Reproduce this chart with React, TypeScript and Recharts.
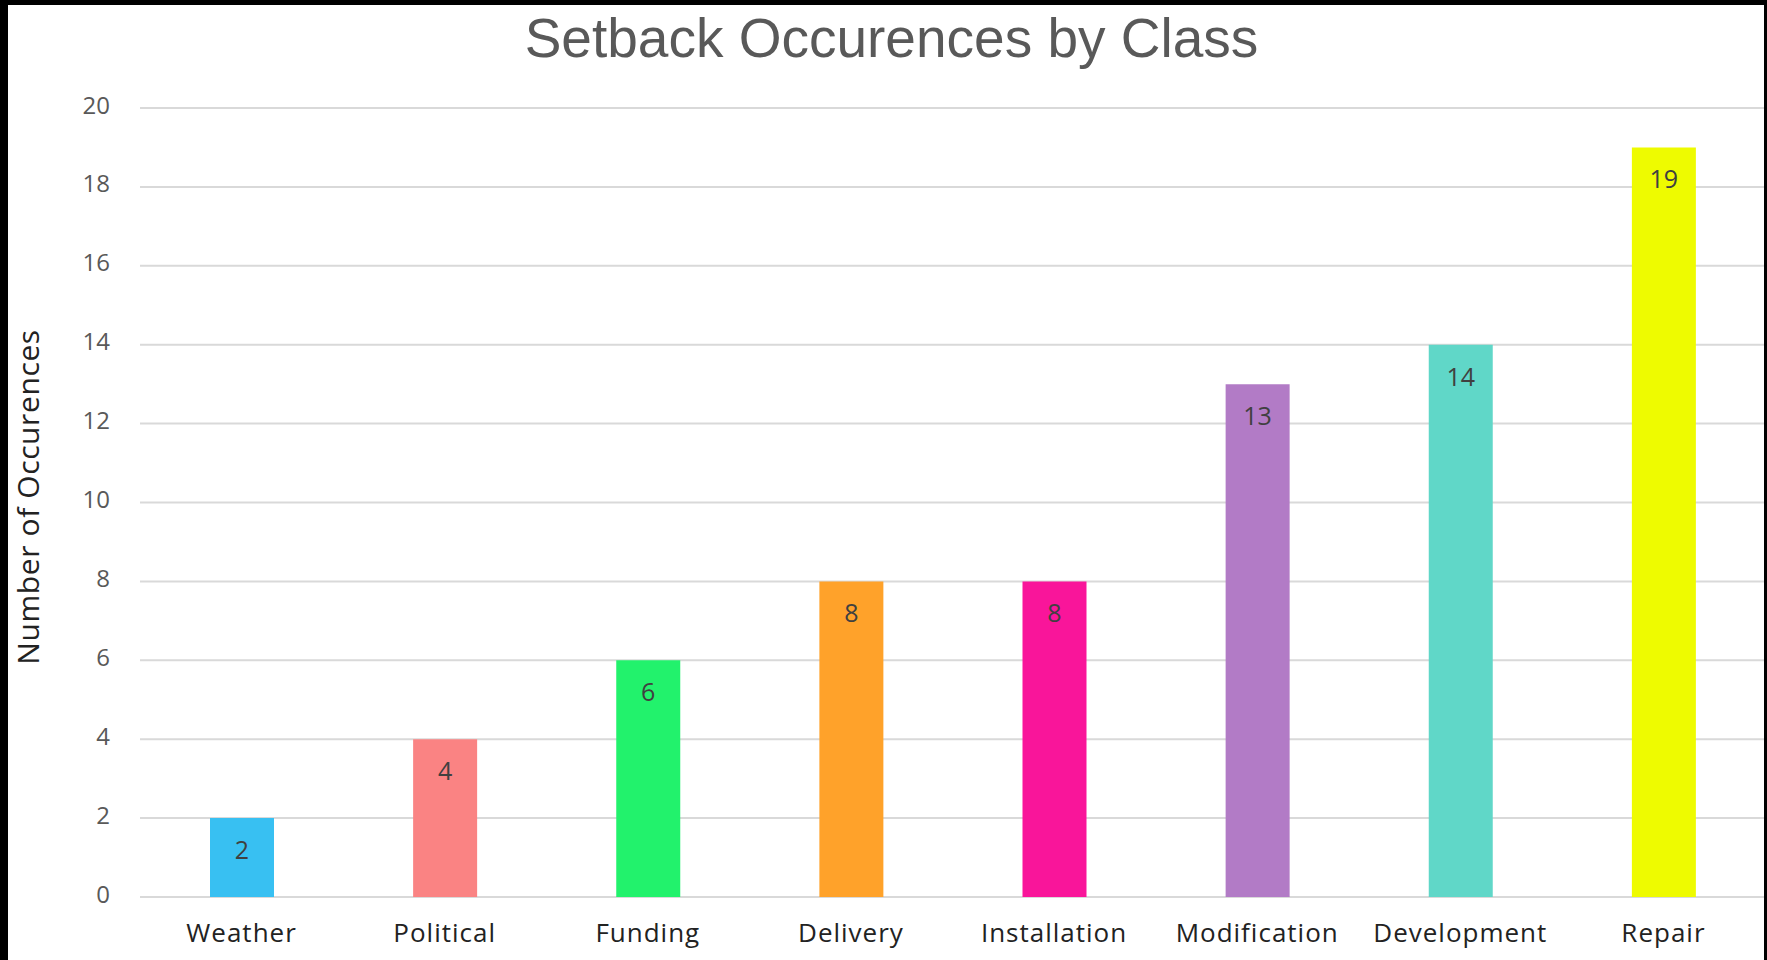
import React from 'react';
import { BarChart, Bar, Cell, XAxis, YAxis, CartesianGrid, LabelList } from 'recharts';

// Setback categories and counts
const classes = ['Weather', 'Political', 'Funding', 'Delivery', 'Installation', 'Modification', 'Development', 'Repair'];
const occurences = [2, 4, 6, 8, 8, 13, 14, 19];
const barColors = ['#38C0F2', '#FA8383', '#22F26C', '#FFA22A', '#F9159A', '#B27BC6', '#60D7C8', '#EEFB00'];
const yTicks = [0, 2, 4, 6, 8, 10, 12, 14, 16, 18, 20];

const data = classes.map((name, i) => ({ name, value: occurences[i] }));

const FONT = '"Open Sans", "Noto Sans", sans-serif';

// value label drawn inside the top of each bar
const BarValue = (props: any) => {
  const { x, y, width, value } = props;
  return (
    <text
      x={Number(x) + Number(width) / 2}
      y={Number(y) + 31}
      textAnchor="middle"
      dominantBaseline="central"
      fontFamily={FONT}
      fontSize={25}
      fill="#404040"
    >
      {value}
    </text>
  );
};

const YTitle = () => (
  <text
    x={19}
    y={492}
    transform="rotate(-90 19 492)"
    textAnchor="middle"
    dominantBaseline="central"
    fontFamily={FONT}
    fontSize={30}
    letterSpacing={0.6}
    fill="#222"
  >
    Number of Occurences
  </text>
);

export default function App() {
  return (
    <div style={{ position: 'fixed', left: 0, top: 0, width: 1767, height: 960, background: '#000', overflow: 'hidden' }}>
      <div style={{ position: 'absolute', left: 8, top: 5, width: 1759, height: 955, background: '#fff' }}>
        <BarChart
          width={1757}
          height={955}
          data={data}
          margin={{ top: 103, right: 0, left: 0, bottom: 18 }}
        >
          <CartesianGrid vertical={false} stroke="#D9D9D9" strokeWidth={2} />
          <XAxis
            dataKey="name"
            height={45}
            axisLine={false}
            tickLine={false}
            tickSize={0}
            tickMargin={27}
            interval={0}
            tick={{ fontFamily: FONT, fontSize: 26, fill: '#222', letterSpacing: 1 }}
          />
          <YAxis
            width={132}
            domain={[0, 20]}
            ticks={yTicks}
            axisLine={false}
            tickLine={false}
            tickSize={0}
            tickMargin={30}
            tick={{ fontFamily: FONT, fontSize: 24, fill: '#595959', dy: -3 }}
            label={<YTitle />}
          />
          <Bar dataKey="value" barSize={64} isAnimationActive={false}>
            {data.map((d, i) => (
              <Cell key={d.name} fill={barColors[i]} />
            ))}
            <LabelList dataKey="value" content={<BarValue />} />
          </Bar>
        </BarChart>
        <div
          style={{
            position: 'absolute',
            left: 0,
            width: 1751,
            top: 6,
            textAlign: 'center',
            paddingLeft: 8,
            fontFamily: '"Liberation Sans", Arial, sans-serif',
            fontSize: 55,
            lineHeight: '55px',
            color: '#595959',
          }}
        >
          Setback Occurences by Class
        </div>
      </div>
      <div style={{ position: 'absolute', left: 1764, top: 0, width: 3, height: 960, background: '#000' }} />
    </div>
  );
}
